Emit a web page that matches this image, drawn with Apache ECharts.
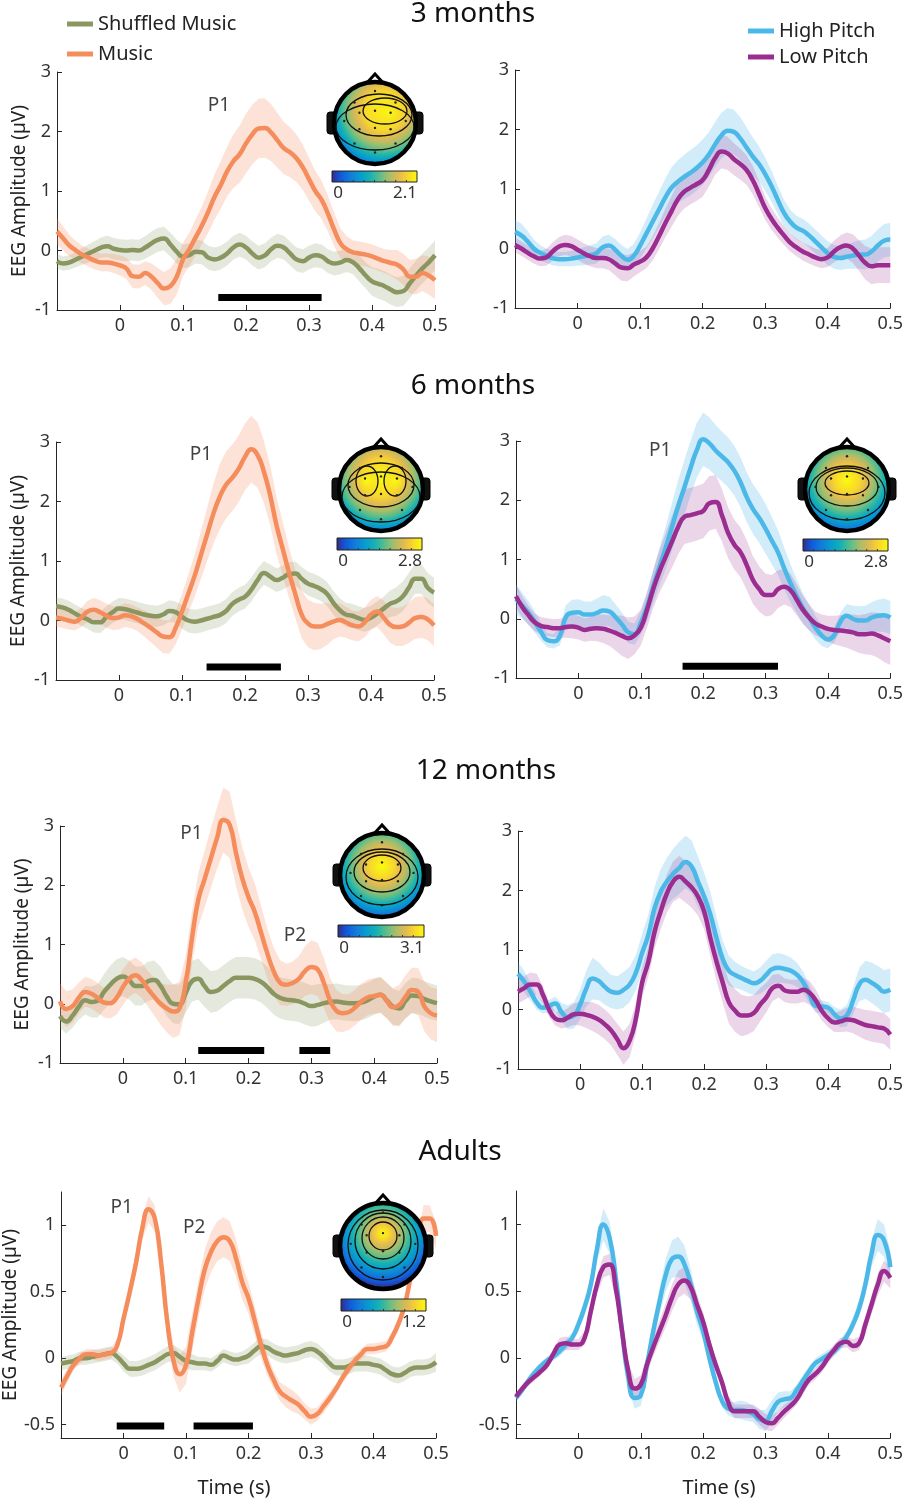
<!DOCTYPE html>
<html>
<head>
<meta charset="utf-8">
<script src="https://cdn.jsdelivr.net/npm/echarts@6/dist/echarts.min.js"></script>
<style>
html,body{margin:0;padding:0;background:#fff;}
#main{width:906px;height:1500px;}
</style>
</head>
<body>
<div id="main"></div>
<script>
// time samples (s)
var TIME = [-0.1,-0.09,-0.08,-0.07,-0.06,-0.05,-0.04,-0.03,-0.02,-0.01,
  0,0.01,0.02,0.03,0.04,0.05,0.06,0.07,0.08,0.09,
  0.1,0.11,0.12,0.13,0.14,0.15,0.16,0.17,0.18,0.19,
  0.2,0.21,0.22,0.23,0.24,0.25,0.26,0.27,0.28,0.29,
  0.3,0.31,0.32,0.33,0.34,0.35,0.36,0.37,0.38,0.39,
  0.4,0.41,0.42,0.43,0.44,0.45,0.46,0.47,0.48,0.49,0.5];

var X_TICKS = [-0.1,0,0.1,0.2,0.3,0.4,0.5];
var X_LABELS = [0,0.1,0.2,0.3,0.4,0.5];
var Y_TICKS_INFANT = [-1,0,1,2,3];
var Y_TICKS_ADULT = [-0.5,0,0.5,1];

// ---- 3 months ----
var M3_SHUF = [-0.18,-0.22,-0.2,-0.15,-0.1,-0.05,0.0,0.05,0.07,0.03,
  0.01,0.0,0.01,0.0,0.05,0.12,0.18,0.2,0.1,-0.02,
  -0.1,-0.08,-0.02,-0.03,-0.12,-0.15,-0.12,-0.05,0.05,0.1,
  0.05,-0.05,-0.12,-0.08,0.02,0.08,0.05,-0.05,-0.15,-0.18,
  -0.12,-0.08,-0.1,-0.18,-0.22,-0.2,-0.16,-0.2,-0.3,-0.42,
  -0.52,-0.56,-0.6,-0.66,-0.7,-0.68,-0.55,-0.42,-0.3,-0.2,-0.08];
var M3_SHUF_SEM = [0.12,0.12,0.12,0.13,0.14,0.15,0.16,0.17,0.18,0.18,
  0.18,0.18,0.18,0.18,0.19,0.2,0.2,0.2,0.2,0.2,
  0.2,0.2,0.2,0.2,0.2,0.2,0.2,0.2,0.2,0.2,
  0.2,0.2,0.2,0.2,0.2,0.2,0.2,0.2,0.2,0.2,
  0.2,0.2,0.2,0.2,0.2,0.2,0.2,0.2,0.22,0.22,
  0.24,0.25,0.25,0.25,0.25,0.25,0.25,0.25,0.25,0.25,0.25];
var M3_MUSIC = [0.32,0.2,0.08,0.0,-0.07,-0.12,-0.17,-0.2,-0.2,-0.22,
  -0.25,-0.3,-0.43,-0.44,-0.38,-0.44,-0.55,-0.64,-0.6,-0.44,
  -0.15,0.02,0.22,0.42,0.65,0.9,1.1,1.33,1.5,1.62,
  1.8,1.95,2.05,2.06,1.98,1.85,1.72,1.65,1.55,1.4,
  1.2,1.0,0.85,0.62,0.35,0.12,0.02,-0.03,-0.05,-0.07,
  -0.1,-0.14,-0.18,-0.21,-0.24,-0.32,-0.44,-0.44,-0.38,-0.42,-0.5];
var M3_MUSIC_SEM = [0.22,0.2,0.18,0.16,0.15,0.15,0.15,0.15,0.15,0.16,
  0.17,0.18,0.2,0.2,0.2,0.22,0.25,0.28,0.3,0.3,
  0.28,0.28,0.3,0.32,0.35,0.38,0.4,0.42,0.45,0.48,
  0.5,0.5,0.5,0.5,0.48,0.46,0.44,0.42,0.4,0.38,
  0.36,0.34,0.32,0.3,0.28,0.25,0.22,0.2,0.2,0.2,
  0.2,0.2,0.2,0.22,0.25,0.26,0.28,0.3,0.3,0.32,0.32];
var M3_HIGH = [0.28,0.22,0.12,0.0,-0.07,-0.12,-0.16,-0.18,-0.18,-0.17,
  -0.15,-0.13,-0.11,-0.08,0.02,0.05,-0.02,-0.12,-0.19,-0.12,
  0.05,0.25,0.45,0.65,0.85,1.02,1.12,1.2,1.27,1.35,
  1.45,1.58,1.75,1.9,1.98,1.96,1.85,1.7,1.55,1.42,
  1.25,1.05,0.82,0.6,0.45,0.35,0.3,0.22,0.12,0.02,
  -0.08,-0.14,-0.16,-0.14,-0.12,-0.1,-0.1,-0.05,0.05,0.13,0.15];
var M3_HIGH_SEM = [0.2,0.2,0.18,0.15,0.13,0.12,0.12,0.12,0.12,0.13,
  0.14,0.15,0.16,0.17,0.18,0.18,0.18,0.18,0.18,0.2,
  0.22,0.25,0.28,0.3,0.32,0.34,0.36,0.37,0.38,0.38,
  0.38,0.38,0.38,0.38,0.38,0.37,0.36,0.34,0.32,0.3,
  0.28,0.26,0.24,0.22,0.2,0.2,0.2,0.2,0.2,0.2,
  0.2,0.2,0.2,0.2,0.22,0.24,0.25,0.26,0.27,0.28,0.28];
var M3_LOW = [0.06,0.0,-0.07,-0.13,-0.17,-0.15,-0.05,0.03,0.06,0.04,
  -0.02,-0.08,-0.13,-0.16,-0.16,-0.18,-0.25,-0.32,-0.33,-0.27,
  -0.22,-0.15,0.0,0.2,0.42,0.62,0.82,0.95,1.02,1.08,
  1.15,1.32,1.52,1.63,1.6,1.5,1.42,1.32,1.15,0.92,
  0.68,0.5,0.35,0.22,0.1,0.02,-0.05,-0.1,-0.15,-0.18,
  -0.15,-0.05,0.02,0.05,0.0,-0.12,-0.24,-0.3,-0.28,-0.28,-0.28];
var M3_LOW_SEM = [0.12,0.12,0.12,0.12,0.13,0.14,0.15,0.16,0.17,0.17,
  0.17,0.17,0.17,0.17,0.17,0.18,0.2,0.22,0.22,0.2,
  0.18,0.18,0.2,0.22,0.24,0.26,0.28,0.28,0.28,0.28,
  0.28,0.28,0.28,0.28,0.28,0.27,0.26,0.25,0.24,0.22,
  0.2,0.18,0.17,0.16,0.15,0.15,0.15,0.15,0.15,0.15,
  0.16,0.18,0.2,0.22,0.24,0.26,0.28,0.3,0.3,0.3,0.3];

// ---- 6 months ----
var M6_SHUF = [0.24,0.22,0.18,0.12,0.06,0.02,-0.03,-0.03,0.06,0.14,
  0.2,0.19,0.16,0.13,0.1,0.08,0.07,0.1,0.16,0.14,
  0.06,0.0,-0.02,0.0,0.03,0.06,0.09,0.16,0.28,0.35,
  0.4,0.52,0.68,0.8,0.74,0.68,0.72,0.78,0.79,0.7,
  0.62,0.58,0.53,0.45,0.3,0.18,0.1,0.08,0.04,0.01,
  0.05,0.12,0.2,0.28,0.32,0.4,0.55,0.7,0.7,0.55,0.47];
var M6_SHUF_SEM = [0.15,0.15,0.15,0.15,0.15,0.16,0.17,0.18,0.18,0.18,
  0.18,0.18,0.18,0.18,0.18,0.18,0.18,0.18,0.18,0.18,
  0.2,0.2,0.2,0.2,0.2,0.2,0.2,0.2,0.2,0.2,
  0.2,0.2,0.2,0.2,0.2,0.2,0.2,0.2,0.2,0.2,
  0.2,0.2,0.2,0.2,0.2,0.2,0.2,0.2,0.2,0.2,
  0.2,0.2,0.2,0.22,0.24,0.25,0.25,0.25,0.25,0.25,0.25];
var M6_MUSIC = [0.05,0.03,0.0,-0.02,0.05,0.15,0.18,0.14,0.08,0.04,
  0.05,0.09,0.07,0.02,-0.05,-0.12,-0.2,-0.27,-0.28,-0.12,
  0.15,0.45,0.75,1.1,1.45,1.8,2.08,2.28,2.4,2.55,
  2.75,2.88,2.78,2.5,2.1,1.6,1.2,0.8,0.44,0.1,
  -0.05,-0.1,-0.1,-0.06,-0.02,0.01,-0.03,-0.08,-0.1,-0.03,
  0.1,0.15,0.05,-0.07,-0.11,-0.1,-0.04,0.04,0.06,0.02,-0.08];
var M6_MUSIC_SEM = [0.15,0.15,0.15,0.15,0.16,0.18,0.2,0.2,0.2,0.2,
  0.2,0.2,0.2,0.2,0.22,0.24,0.26,0.28,0.28,0.28,
  0.3,0.32,0.35,0.4,0.45,0.5,0.55,0.56,0.56,0.56,
  0.56,0.56,0.55,0.52,0.5,0.48,0.45,0.42,0.4,0.4,
  0.4,0.4,0.38,0.35,0.3,0.28,0.26,0.25,0.25,0.25,
  0.25,0.26,0.28,0.3,0.32,0.33,0.34,0.35,0.35,0.35,0.35];
var M6_HIGH = [0.33,0.22,0.1,-0.05,-0.22,-0.36,-0.38,-0.3,0.03,0.1,
  0.11,0.07,0.07,0.1,0.14,0.12,0.02,-0.1,-0.23,-0.26,
  -0.07,0.2,0.55,0.88,1.2,1.55,1.9,2.22,2.55,2.85,
  3.03,2.96,2.84,2.74,2.64,2.5,2.3,2.05,1.85,1.7,
  1.52,1.32,1.12,0.85,0.6,0.38,0.18,0.02,-0.15,-0.28,
  -0.35,-0.28,-0.05,0.05,0.0,-0.03,-0.03,0.02,0.05,0.06,0.02];
var M6_HIGH_SEM = [0.25,0.22,0.2,0.18,0.15,0.12,0.12,0.15,0.2,0.22,
  0.22,0.22,0.22,0.24,0.26,0.25,0.22,0.2,0.18,0.18,
  0.2,0.24,0.28,0.32,0.36,0.4,0.44,0.46,0.46,0.46,
  0.45,0.44,0.43,0.42,0.42,0.42,0.42,0.42,0.42,0.42,
  0.42,0.4,0.38,0.35,0.32,0.28,0.25,0.22,0.2,0.18,
  0.15,0.12,0.15,0.2,0.22,0.24,0.25,0.26,0.27,0.28,0.28];
var M6_LOW = [0.38,0.2,0.06,-0.06,-0.12,-0.14,-0.16,-0.16,-0.14,-0.13,
  -0.15,-0.19,-0.17,-0.16,-0.17,-0.2,-0.24,-0.29,-0.33,-0.28,
  -0.15,0.15,0.5,0.8,1.05,1.3,1.55,1.72,1.75,1.78,
  1.82,1.95,1.97,1.75,1.45,1.25,1.12,0.9,0.65,0.5,
  0.4,0.4,0.5,0.54,0.48,0.32,0.15,0.02,-0.08,-0.13,
  -0.17,-0.19,-0.2,-0.21,-0.23,-0.26,-0.26,-0.25,-0.28,-0.33,-0.38];
var M6_LOW_SEM = [0.2,0.18,0.16,0.15,0.15,0.15,0.15,0.16,0.18,0.2,
  0.2,0.2,0.2,0.22,0.24,0.26,0.3,0.34,0.35,0.32,
  0.3,0.3,0.32,0.36,0.4,0.44,0.46,0.46,0.46,0.46,
  0.46,0.46,0.45,0.44,0.43,0.42,0.42,0.42,0.4,0.38,
  0.36,0.34,0.32,0.3,0.28,0.26,0.24,0.22,0.2,0.2,
  0.22,0.24,0.26,0.28,0.3,0.32,0.34,0.36,0.38,0.4,0.4];

// ---- 12 months ----
var M12_SHUF = [-0.21,-0.3,-0.2,-0.05,0.06,0.03,0.05,0.2,0.32,0.42,
  0.46,0.4,0.3,0.3,0.38,0.4,0.3,0.12,0.0,-0.01,
  0.18,0.38,0.42,0.3,0.2,0.22,0.3,0.38,0.44,0.44,
  0.44,0.42,0.37,0.28,0.17,0.1,0.07,0.06,0.04,0.0,
  -0.04,-0.02,0.01,0.03,0.04,0.02,0.01,0.01,0.02,0.06,
  0.12,0.15,0.06,-0.05,-0.08,0.05,0.14,0.13,0.08,0.04,0.01];
var M12_SHUF_SEM = [0.2,0.2,0.2,0.22,0.24,0.26,0.28,0.3,0.32,0.33,
  0.33,0.33,0.33,0.33,0.33,0.33,0.33,0.33,0.33,0.33,
  0.33,0.34,0.35,0.35,0.35,0.35,0.35,0.35,0.35,0.35,
  0.35,0.35,0.35,0.35,0.35,0.35,0.35,0.35,0.35,0.35,
  0.35,0.35,0.33,0.3,0.3,0.3,0.3,0.3,0.3,0.3,
  0.3,0.3,0.3,0.3,0.3,0.3,0.3,0.3,0.3,0.3,0.3];
var M12_MUSIC = [0.04,-0.09,-0.04,0.1,0.2,0.17,0.1,0.02,0.01,0.1,
  0.28,0.42,0.48,0.4,0.25,0.12,0.0,-0.08,-0.13,-0.08,
  0.35,1.1,1.75,2.1,2.45,2.8,3.1,3.02,2.55,2.12,
  1.8,1.55,1.2,0.85,0.55,0.36,0.32,0.35,0.42,0.55,
  0.62,0.58,0.35,0.05,-0.12,-0.16,-0.14,-0.06,0.04,0.11,
  0.13,0.15,0.05,-0.06,-0.02,0.12,0.23,0.2,-0.05,-0.16,-0.2];
var M12_MUSIC_SEM = [0.3,0.3,0.28,0.26,0.25,0.25,0.25,0.25,0.26,0.28,
  0.3,0.3,0.3,0.3,0.3,0.32,0.35,0.4,0.45,0.45,
  0.45,0.45,0.45,0.48,0.5,0.52,0.55,0.56,0.55,0.52,
  0.5,0.48,0.45,0.42,0.4,0.38,0.36,0.36,0.38,0.42,
  0.45,0.45,0.42,0.38,0.35,0.32,0.3,0.3,0.3,0.3,
  0.3,0.3,0.3,0.32,0.34,0.36,0.38,0.4,0.42,0.44,0.45];
var M12_HIGH = [0.6,0.47,0.3,0.12,0.03,0.06,0.1,-0.04,-0.13,-0.1,
  0.08,0.35,0.52,0.48,0.38,0.3,0.28,0.33,0.42,0.62,
  0.95,1.25,1.7,1.98,2.15,2.28,2.38,2.48,2.4,2.15,
  1.9,1.6,1.2,0.85,0.65,0.58,0.53,0.48,0.44,0.48,
  0.58,0.68,0.7,0.68,0.65,0.58,0.45,0.25,0.06,0.05,
  0.03,-0.08,-0.15,-0.1,0.15,0.42,0.5,0.45,0.38,0.3,0.33];
var M12_HIGH_SEM = [0.2,0.18,0.15,0.12,0.1,0.1,0.12,0.15,0.2,0.22,
  0.25,0.3,0.35,0.32,0.3,0.28,0.28,0.3,0.3,0.3,
  0.32,0.34,0.36,0.38,0.4,0.42,0.44,0.44,0.44,0.42,
  0.4,0.38,0.35,0.3,0.25,0.22,0.2,0.2,0.2,0.22,
  0.24,0.25,0.25,0.24,0.22,0.2,0.18,0.15,0.12,0.1,
  0.1,0.12,0.15,0.18,0.22,0.28,0.32,0.34,0.35,0.36,0.36];
var M12_LOW = [0.3,0.36,0.42,0.42,0.25,0.0,-0.15,-0.18,-0.14,-0.08,
  -0.07,-0.09,-0.12,-0.17,-0.25,-0.35,-0.5,-0.65,-0.52,-0.15,
  0.45,0.8,1.3,1.65,1.95,2.15,2.23,2.15,2.05,1.9,
  1.65,1.2,0.8,0.45,0.12,-0.02,-0.1,-0.1,-0.06,0.08,
  0.2,0.36,0.4,0.32,0.3,0.3,0.33,0.28,0.15,-0.03,
  -0.15,-0.22,-0.2,-0.17,-0.18,-0.22,-0.26,-0.28,-0.3,-0.32,-0.42];
var M12_LOW_SEM = [0.2,0.2,0.2,0.18,0.15,0.12,0.12,0.14,0.16,0.18,
  0.2,0.22,0.24,0.25,0.25,0.25,0.26,0.28,0.28,0.26,
  0.25,0.26,0.28,0.3,0.32,0.34,0.35,0.35,0.34,0.32,
  0.3,0.3,0.32,0.34,0.36,0.36,0.35,0.32,0.3,0.28,
  0.25,0.22,0.2,0.2,0.2,0.2,0.2,0.2,0.18,0.16,
  0.15,0.16,0.18,0.2,0.22,0.24,0.25,0.26,0.26,0.26,0.26];

// ---- adults ----
var AD_SHUF = [-0.04,-0.03,-0.02,0.0,0.0,0.01,0.02,0.03,0.04,0.01,
  -0.04,-0.08,-0.08,-0.07,-0.05,-0.03,0.0,0.03,0.04,0.01,
  -0.02,-0.03,-0.04,-0.04,-0.05,-0.02,0.02,0.0,-0.01,0.0,
  0.02,0.06,0.09,0.08,0.05,0.03,0.02,0.03,0.04,0.06,
  0.07,0.05,0.01,-0.04,-0.07,-0.07,-0.06,-0.04,-0.04,-0.04,
  -0.05,-0.06,-0.09,-0.12,-0.13,-0.11,-0.08,-0.07,-0.07,-0.06,-0.03];
var AD_SHUF_SEM = [0.05,0.05,0.05,0.05,0.05,0.05,0.05,0.05,0.05,0.05,
  0.06,0.06,0.06,0.06,0.06,0.06,0.06,0.06,0.06,0.06,
  0.06,0.06,0.05,0.05,0.05,0.05,0.05,0.05,0.05,0.05,
  0.06,0.06,0.06,0.06,0.06,0.06,0.06,0.06,0.06,0.06,
  0.06,0.06,0.06,0.06,0.06,0.06,0.06,0.06,0.06,0.06,
  0.06,0.06,0.06,0.06,0.06,0.06,0.06,0.06,0.06,0.06,0.07];
var AD_MUSIC = [-0.22,-0.13,-0.05,0.0,0.03,0.03,0.02,0.03,0.04,0.1,
  0.3,0.5,0.72,0.98,1.12,1.05,0.72,0.27,-0.02,-0.12,
  -0.05,0.2,0.45,0.67,0.8,0.88,0.91,0.88,0.75,0.57,
  0.45,0.28,0.1,-0.05,-0.16,-0.25,-0.29,-0.32,-0.35,-0.4,
  -0.44,-0.42,-0.36,-0.3,-0.23,-0.15,-0.08,-0.02,0.03,0.07,
  0.07,0.08,0.09,0.16,0.26,0.4,0.62,0.82,1.05,1.05,0.92];
var AD_MUSIC_SEM = [0.06,0.05,0.04,0.04,0.04,0.04,0.04,0.04,0.04,0.05,
  0.06,0.07,0.08,0.09,0.1,0.1,0.1,0.1,0.12,0.14,
  0.14,0.14,0.14,0.15,0.15,0.15,0.15,0.15,0.14,0.13,
  0.12,0.11,0.1,0.08,0.07,0.07,0.08,0.08,0.07,0.06,
  0.06,0.05,0.05,0.05,0.04,0.04,0.04,0.04,0.04,0.04,
  0.04,0.04,0.04,0.04,0.05,0.06,0.07,0.08,0.1,0.1,0.1];
var AD_HIGH = [-0.3,-0.24,-0.17,-0.11,-0.06,-0.02,0.01,0.05,0.1,0.15,
  0.25,0.38,0.55,0.82,1.0,0.9,0.6,0.2,-0.15,-0.3,
  -0.28,-0.05,0.2,0.42,0.62,0.74,0.76,0.7,0.55,0.35,
  0.2,0.0,-0.18,-0.32,-0.38,-0.39,-0.39,-0.4,-0.42,-0.46,
  -0.47,-0.4,-0.33,-0.31,-0.3,-0.24,-0.17,-0.1,-0.04,-0.01,
  0.02,0.05,0.1,0.16,0.25,0.37,0.55,0.78,0.92,0.88,0.68];
var AD_HIGH_SEM = [0.03,0.03,0.03,0.03,0.03,0.03,0.03,0.04,0.04,0.04,
  0.05,0.06,0.07,0.09,0.12,0.12,0.1,0.08,0.07,0.08,
  0.08,0.08,0.08,0.1,0.12,0.14,0.15,0.14,0.12,0.1,
  0.08,0.07,0.06,0.05,0.05,0.06,0.07,0.07,0.06,0.07,
  0.08,0.08,0.07,0.06,0.05,0.04,0.04,0.04,0.04,0.04,
  0.04,0.04,0.04,0.04,0.05,0.06,0.08,0.1,0.12,0.12,0.12];
var AD_LOW = [-0.29,-0.23,-0.18,-0.14,-0.1,-0.05,0.03,0.1,0.11,0.1,
  0.1,0.15,0.35,0.55,0.68,0.7,0.52,0.2,-0.1,-0.23,
  -0.2,-0.05,0.08,0.2,0.32,0.45,0.55,0.58,0.53,0.4,
  0.27,0.1,-0.05,-0.18,-0.33,-0.4,-0.4,-0.4,-0.4,-0.44,
  -0.48,-0.49,-0.45,-0.4,-0.36,-0.31,-0.23,-0.16,-0.12,-0.07,
  0.0,0.06,0.11,0.12,0.09,0.11,0.25,0.4,0.55,0.65,0.6];
var AD_LOW_SEM = [0.03,0.03,0.03,0.03,0.03,0.03,0.04,0.05,0.05,0.04,
  0.04,0.05,0.06,0.07,0.08,0.08,0.08,0.07,0.07,0.07,
  0.07,0.07,0.07,0.08,0.09,0.1,0.1,0.1,0.09,0.08,
  0.07,0.06,0.05,0.05,0.05,0.05,0.05,0.05,0.05,0.06,
  0.06,0.06,0.05,0.05,0.04,0.04,0.04,0.04,0.04,0.04,
  0.04,0.04,0.04,0.04,0.05,0.05,0.06,0.07,0.08,0.08,0.08];

// significance bars: [start, end, level]
var SIG_3M = [[0.156,0.32,-0.79]];
var SIG_6M_L = [[0.139,0.257,-0.78]];
var SIG_6M_R = [[0.167,0.32,-0.8]];
var SIG_12M = [[0.12,0.225,-0.79],[0.281,0.33,-0.79]];
var SIG_AD = [[-0.011,0.065,-0.51],[0.112,0.207,-0.51]];

// peak labels: [t, value, text]
var PEAKS_3M = [[0.157,2.43,'P1']];
var PEAKS_6M_L = [[0.13,2.78,'P1']];
var PEAKS_6M_R = [[0.131,2.84,'P1']];
var PEAKS_12M = [[0.109,2.88,'P1'],[0.274,1.15,'P2']];
var PEAKS_AD = [[-0.003,1.13,'P1'],[0.113,0.98,'P2']];

// topography colour bar maxima
var TOPO_MAX = ['2.1','2.8','2.8','3.1','1.2'];

var FONT = '"Noto Sans"';
var STYLE = {
  'Shuffled Music': {line: '#8a9660', band: 'rgba(138,150,96,0.22)'},
  'Music': {line: '#f58c5b', band: 'rgba(247,140,95,0.25)'},
  'High Pitch': {line: '#4cb8e8', band: 'rgba(76,184,232,0.25)'},
  'Low Pitch': {line: '#9b2d91', band: 'rgba(155,45,145,0.2)'}
};

var PANELS = [
  {grid: {left: 57, top: 72, width: 378, height: 238}, y: [-1, 3], ticks: Y_TICKS_INFANT, yName: true,
    conds: [['Shuffled Music', M3_SHUF, M3_SHUF_SEM], ['Music', M3_MUSIC, M3_MUSIC_SEM]], sig: SIG_3M, peaks: PEAKS_3M},
  {grid: {left: 515, top: 70, width: 377, height: 238}, y: [-1, 3], ticks: Y_TICKS_INFANT,
    conds: [['High Pitch', M3_HIGH, M3_HIGH_SEM], ['Low Pitch', M3_LOW, M3_LOW_SEM]], sig: [], peaks: []},
  {grid: {left: 56, top: 442, width: 378, height: 238}, y: [-1, 3], ticks: Y_TICKS_INFANT, yName: true,
    conds: [['Shuffled Music', M6_SHUF, M6_SHUF_SEM], ['Music', M6_MUSIC, M6_MUSIC_SEM]], sig: SIG_6M_L, peaks: PEAKS_6M_L},
  {grid: {left: 516, top: 441, width: 378, height: 237}, y: [-1, 3], ticks: Y_TICKS_INFANT,
    conds: [['High Pitch', M6_HIGH, M6_HIGH_SEM], ['Low Pitch', M6_LOW, M6_LOW_SEM]], sig: SIG_6M_R, peaks: PEAKS_6M_R},
  {grid: {left: 60, top: 826, width: 377, height: 237}, y: [-1, 3], ticks: Y_TICKS_INFANT, yName: true,
    conds: [['Shuffled Music', M12_SHUF, M12_SHUF_SEM], ['Music', M12_MUSIC, M12_MUSIC_SEM]], sig: SIG_12M, peaks: PEAKS_12M},
  {grid: {left: 518, top: 831, width: 378, height: 238}, y: [-1, 3], ticks: Y_TICKS_INFANT,
    conds: [['High Pitch', M12_HIGH, M12_HIGH_SEM], ['Low Pitch', M12_LOW, M12_LOW_SEM]], sig: [], peaks: []},
  {grid: {left: 60, top: 1192, width: 376, height: 246}, y: [-0.6, 1.25], ticks: Y_TICKS_ADULT, yName: true,
    conds: [['Shuffled Music', AD_SHUF, AD_SHUF_SEM], ['Music', AD_MUSIC, AD_MUSIC_SEM]], sig: SIG_AD, peaks: PEAKS_AD},
  {grid: {left: 516, top: 1191, width: 381, height: 247}, y: [-0.6, 1.25], ticks: Y_TICKS_ADULT,
    conds: [['High Pitch', AD_HIGH, AD_HIGH_SEM], ['Low Pitch', AD_LOW, AD_LOW_SEM]], sig: [], peaks: []}
];

var PARULA = ['#352a87', '#0f5cdd', '#127dd8', '#079ccf', '#15b1b4', '#59bd8c', '#a5be6b', '#e1b952', '#f8d82b', '#f9fb0e'];

var myChart = echarts.init(document.getElementById('main'));

var grids = [], xAxes = [], yAxes = [], series = [];

// shaded band (mean +/- sem) as one polygon through the axis scales
function bandSeries(i, mean, sem, color) {
  var lo = TIME.map(function (t, j) { return +(mean[j] - sem[j]).toFixed(3); });
  var hi = TIME.map(function (t, j) { return +(mean[j] + sem[j]).toFixed(3); });
  return {
    type: 'custom', xAxisIndex: i, yAxisIndex: i, silent: true, z: 1, clip: false,
    data: TIME.map(function (t, j) { return [t, lo[j], hi[j]]; }),
    encode: {x: 0, y: [1, 2]},
    renderItem: function (params, api) {
      if (params.dataIndex !== 0) return null;
      var pts = [], k;
      for (k = 0; k < TIME.length; k++) pts.push(api.coord([TIME[k], hi[k]]));
      for (k = TIME.length - 1; k >= 0; k--) pts.push(api.coord([TIME[k], lo[k]]));
      return {type: 'polygon', shape: {points: pts}, style: {fill: color}};
    }
  };
}

PANELS.forEach(function (p, i) {
  grids.push(p.grid);
  xAxes.push({
    gridIndex: i, type: 'value', min: -0.1, max: 0.5, interval: 0.1,
    axisLine: {show: true, onZero: false, lineStyle: {color: '#262626', width: 1}},
    axisTick: {show: true, inside: true, length: 5, customValues: X_TICKS, lineStyle: {color: '#262626'}},
    axisLabel: {customValues: X_LABELS, margin: 7, color: '#333', fontSize: 18, fontFamily: FONT,
      formatter: function (v) { return String(v); }},
    splitLine: {show: false}
  });
  yAxes.push({
    gridIndex: i, type: 'value', min: p.y[0], max: p.y[1],
    axisLine: {show: true, onZero: false, lineStyle: {color: '#262626', width: 1}},
    axisTick: {show: true, inside: true, length: 5, customValues: p.ticks, lineStyle: {color: '#262626'}},
    axisLabel: {customValues: p.ticks, margin: 6, color: '#333', fontSize: 18, fontFamily: FONT,
      formatter: function (v) { return String(v); }},
    splitLine: {show: false},
    name: p.yName ? 'EEG Amplitude (\u00b5V)' : '',
    nameLocation: 'middle', nameGap: 28,
    nameTextStyle: {fontSize: 19, color: '#222', fontFamily: FONT}
  });

  p.conds.forEach(function (c) {
    series.push(bandSeries(i, c[1], c[2], STYLE[c[0]].band));
  });
  p.conds.forEach(function (c) {
    var st = STYLE[c[0]];
    series.push({
      type: 'line', name: c[0], xAxisIndex: i, yAxisIndex: i,
      data: TIME.map(function (t, j) { return [t, c[1][j]]; }),
      smooth: true, showSymbol: false, color: st.line, clip: false,
      lineStyle: {width: 4.5, color: st.line}, silent: true, z: 3
    });
  });
  p.sig.forEach(function (s) {
    series.push({
      type: 'line', xAxisIndex: i, yAxisIndex: i,
      data: [[s[0], s[2]], [s[1], s[2]]],
      symbol: 'none', lineStyle: {width: 7, color: '#000', cap: 'butt'}, silent: true, z: 4
    });
  });
  if (p.peaks.length) {
    series.push({
      type: 'scatter', xAxisIndex: i, yAxisIndex: i,
      data: p.peaks.map(function (q) { return {value: [q[0], q[1]], name: q[2]}; }),
      symbolSize: 1, itemStyle: {color: 'rgba(0,0,0,0)'}, silent: true, z: 5, clip: false,
      label: {show: true, position: 'inside', formatter: '{b}', fontSize: 19, color: '#111', fontFamily: FONT}
    });
  }
});

// ---------- scalp maps ----------
// radial parula fill, hot (yellow) at centre; gamma < 1 widens the warm part
function radialFill(gx, gy, gr, gamma) {
  var n = PARULA.length - 1, stops = [];
  for (var k = 0; k <= n; k++) {
    stops.push({offset: Math.pow(k / n, gamma), color: PARULA[n - k]});
  }
  return {type: 'radial', x: gx, y: gy, r: gr, colorStops: stops};
}
function barFill() {
  return {type: 'linear', x: 0, y: 0, x2: 1, y2: 0,
    colorStops: PARULA.map(function (c, i) { return {offset: i / (PARULA.length - 1), color: c}; })};
}
var ELECTRODES = [[0,-0.78],[-0.5,-0.5],[0.5,-0.5],[-0.75,-0.05],[-0.38,-0.25],[0,-0.3],[0.38,-0.25],
  [0.75,-0.05],[-0.38,0.15],[0,0.12],[0.38,0.15],[-0.5,0.5],[0.5,0.5],[0,0.72]];

function topo(cx, cy, r, g, contours, blobs, bar, maxLabel) {
  var els = [];
  els.push({type: 'rect', shape: {x: cx - r - 7, y: cy - 11, width: 10, height: 22, r: 3},
    style: {fill: '#111', stroke: '#000', lineWidth: 1}, z: 100});
  els.push({type: 'rect', shape: {x: cx + r - 3, y: cy - 11, width: 10, height: 22, r: 3},
    style: {fill: '#111', stroke: '#000', lineWidth: 1}, z: 100});
  els.push({type: 'polygon', shape: {points: [[cx - 10, cy - r + 3], [cx, cy - r - 8], [cx + 10, cy - r + 3]]},
    style: {fill: '#fff', stroke: '#000', lineWidth: 3}, z: 100});
  els.push({type: 'circle', shape: {cx: cx, cy: cy, r: r},
    style: {fill: radialFill(g[0], g[1], g[2], g[3]), stroke: '#000', lineWidth: 4.5}, z: 101});
  blobs.forEach(function (b) {
    els.push({type: 'ellipse', shape: {cx: cx + b[0], cy: cy + b[1], rx: b[2], ry: b[3]},
      style: {fill: {type: 'radial', x: 0.5, y: 0.5, r: 0.5,
        colorStops: [{offset: 0, color: 'rgba(249,251,14,1)'}, {offset: 1, color: 'rgba(248,216,43,0.3)'}]}}, z: 102});
  });
  contours.forEach(function (c) {
    els.push({type: 'ellipse', shape: {cx: cx + c[0], cy: cy + c[1], rx: c[2], ry: c[3]},
      style: {fill: null, stroke: '#111', lineWidth: 1.3}, z: 103});
  });
  ELECTRODES.forEach(function (e) {
    els.push({type: 'circle', shape: {cx: cx + e[0] * r, cy: cy + e[1] * r, r: 1.2},
      style: {fill: '#222'}, z: 104});
  });
  els.push({type: 'rect', shape: {x: bar[0], y: bar[1], width: bar[2], height: bar[3]},
    style: {fill: barFill(), stroke: '#222', lineWidth: 1}, z: 101});
  for (var k = 1; k < 8; k++) {
    var tx = bar[0] + bar[2] * k / 8;
    els.push({type: 'line', shape: {x1: tx, y1: bar[1] + bar[3], x2: tx, y2: bar[1] + bar[3] - 2},
      style: {stroke: '#333', lineWidth: 1}, z: 102});
  }
  els.push({type: 'text', x: bar[0] + 6, y: bar[1] + bar[3] + 11, z: 101,
    style: {text: '0', font: '17px ' + FONT, fill: '#333', align: 'center', verticalAlign: 'middle'}});
  els.push({type: 'text', x: bar[0] + bar[2] - 12, y: bar[1] + bar[3] + 11, z: 101,
    style: {text: maxLabel, font: '17px ' + FONT, fill: '#333', align: 'center', verticalAlign: 'middle'}});
  return els;
}

var graphics = [];
graphics = graphics.concat(
  topo(375, 123, 41, [0.6, 0.36, 0.72, 0.55], [[10,-12,22,13],[4,-8,33,21],[0,4,39,23]], [[14,-10,18,11]], [332, 171, 85, 11], TOPO_MAX[0]),
  topo(381, 489, 42, [0.5, 0.38, 0.68, 0.55], [[-14,-8,11,15],[14,-8,11,15],[0,-4,33,22],[0,8,39,25]], [[-14,-8,11,15],[14,-8,11,15]], [337, 538, 85, 12], TOPO_MAX[1]),
  topo(847, 489, 42, [0.5, 0.4, 0.64, 0.7], [[0,-6,22,12],[0,-2,31,19],[0,4,38,27]], [], [803, 539, 85, 12], TOPO_MAX[2]),
  topo(382, 875, 42, [0.5, 0.4, 0.64, 0.72], [[0,-7,19,13],[0,-3,28,20],[0,2,36,28]], [], [338, 925, 86, 12], TOPO_MAX[3]),
  topo(383, 1246, 43, [0.5, 0.36, 0.6, 1.0], [[0,-10,14,14],[0,-8,21,21],[0,-5,28,28],[0,-1,35,35]], [], [341, 1299, 85, 12], TOPO_MAX[4])
);

// titles and axis names
[['3 months', 473, 14], ['6 months', 473, 386], ['12 months', 486, 771], ['Adults', 460, 1152]].forEach(function (t) {
  graphics.push({type: 'text', x: t[1], y: t[2], style: {text: t[0], font: '28px ' + FONT, fill: '#111', align: 'center', verticalAlign: 'middle'}});
});
[[234, 1488], [719, 1488]].forEach(function (t) {
  graphics.push({type: 'text', x: t[0], y: t[1], style: {text: 'Time (s)', font: '20px ' + FONT, fill: '#222', align: 'center', verticalAlign: 'middle'}});
});

myChart.setOption({
  animation: false,
  backgroundColor: '#fff',
  grid: grids,
  xAxis: xAxes,
  yAxis: yAxes,
  legend: [
    {data: ['Shuffled Music', 'Music'], orient: 'vertical', left: 62, top: 9, itemGap: 10,
      icon: 'rect', itemWidth: 26, itemHeight: 5, selectedMode: false,
      textStyle: {fontSize: 20, color: '#222', fontFamily: FONT, lineHeight: 20}},
    {data: ['High Pitch', 'Low Pitch'], orient: 'vertical', left: 743, top: 16, itemGap: 6,
      icon: 'rect', itemWidth: 26, itemHeight: 5, selectedMode: false,
      textStyle: {fontSize: 20, color: '#222', fontFamily: FONT, lineHeight: 20}}
  ],
  graphic: graphics,
  series: series
});

window.onresize = myChart.resize;
</script>
</body>
</html>
